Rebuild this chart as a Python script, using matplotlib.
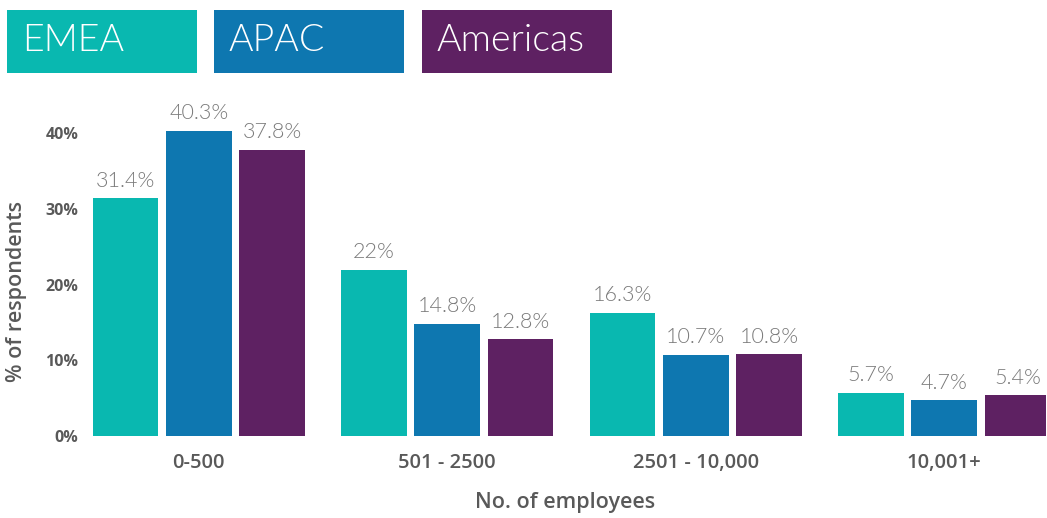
import matplotlib
matplotlib.use("Agg")
import matplotlib.pyplot as plt
from matplotlib.patches import Rectangle
import numpy as np

# data
groups = ["0-500", "501 - 2500", "2501 - 10,000", "10,001+"]
regions = ["EMEA", "APAC", "Americas"]
emea = [31.4, 22.0, 16.3, 5.7]
apac = [40.3, 14.8, 10.7, 4.7]
americas = [37.8, 12.8, 10.8, 5.4]
value_labels = [
    ["31.4%", "22%", "16.3%", "5.7%"],
    ["40.3%", "14.8%", "10.7%", "4.7%"],
    ["37.8%", "12.8%", "10.8%", "5.4%"],
]
yticks = [0, 10, 20, 30, 40]

colors = ["#09b8b0", "#0e77b0", "#5e2162"]
W, H = 1047, 518

plt.rcParams["font.family"] = ["Open Sans", "DejaVu Sans"]

fig = plt.figure(figsize=(W / 100, H / 100), dpi=100, facecolor="white")
# axes placed in pixel terms: bottom at y=436, top at y=95.5 (45%)
left_px = 84
ax = fig.add_axes([left_px / W, (H - 436) / H, (1046 - left_px) / W, (436 - 95.5) / H])

x = np.arange(len(groups))
width = 0.265
step = 0.295
series = [emea, apac, americas]
for i, vals in enumerate(series):
    pos = x + (i - 1) * step
    bars = ax.bar(pos, vals, width=width, color=colors[i], zorder=2)
    for b, lab in zip(bars, value_labels[i]):
        ax.text(b.get_x() + b.get_width() / 2, b.get_height() + 1.0, lab,
                ha="center", va="bottom", fontsize=15.5, color="#7a7a7a",
                family=["Lato", "Open Sans"], fontweight=300)

ax.set_xlim(-(199 - left_px) / 249, 3 + (1046 - 944) / 249)
ax.set_ylim(0, 45)
ax.set_yticks(yticks)
ax.set_yticklabels([f"{t}%" for t in yticks])
ax.set_xticks(x)
ax.set_xticklabels(groups)
for s in ax.spines.values():
    s.set_visible(False)
ax.tick_params(axis="both", length=0)
ax.tick_params(axis="y", pad=4, labelsize=11.5, labelcolor="#595959")
ax.tick_params(axis="x", pad=12, labelsize=14.5, labelcolor="#595959")
for t in ax.get_yticklabels():
    t.set_fontweight("bold")
for t in ax.get_xticklabels():
    t.set_fontweight("semibold")

ax.set_xlabel("No. of employees", fontsize=15.5, color="#595959",
              fontweight="semibold", labelpad=14)
ax.set_ylabel("% of respondents", fontsize=15.5, color="#595959",
              fontweight="semibold")
ax.yaxis.set_label_coords((27 - left_px) / (1046 - left_px), (436 - 292) / 340.5)

# legend tiles across the top
tile_x = [7, 214, 422]
for name, col, tx in zip(regions, colors, tile_x):
    fig.patches.append(Rectangle((tx / W, (H - 73) / H), 190 / W, 63 / H,
                                 transform=fig.transFigure, facecolor=col,
                                 edgecolor="none"))
    fig.text((tx + 15) / W, (H - 41) / H, name, ha="left", va="center",
             fontsize=27, color="white", family=["Lato", "Open Sans"],
             fontweight=300)

fig.savefig("out.png", dpi=100, facecolor="white")
